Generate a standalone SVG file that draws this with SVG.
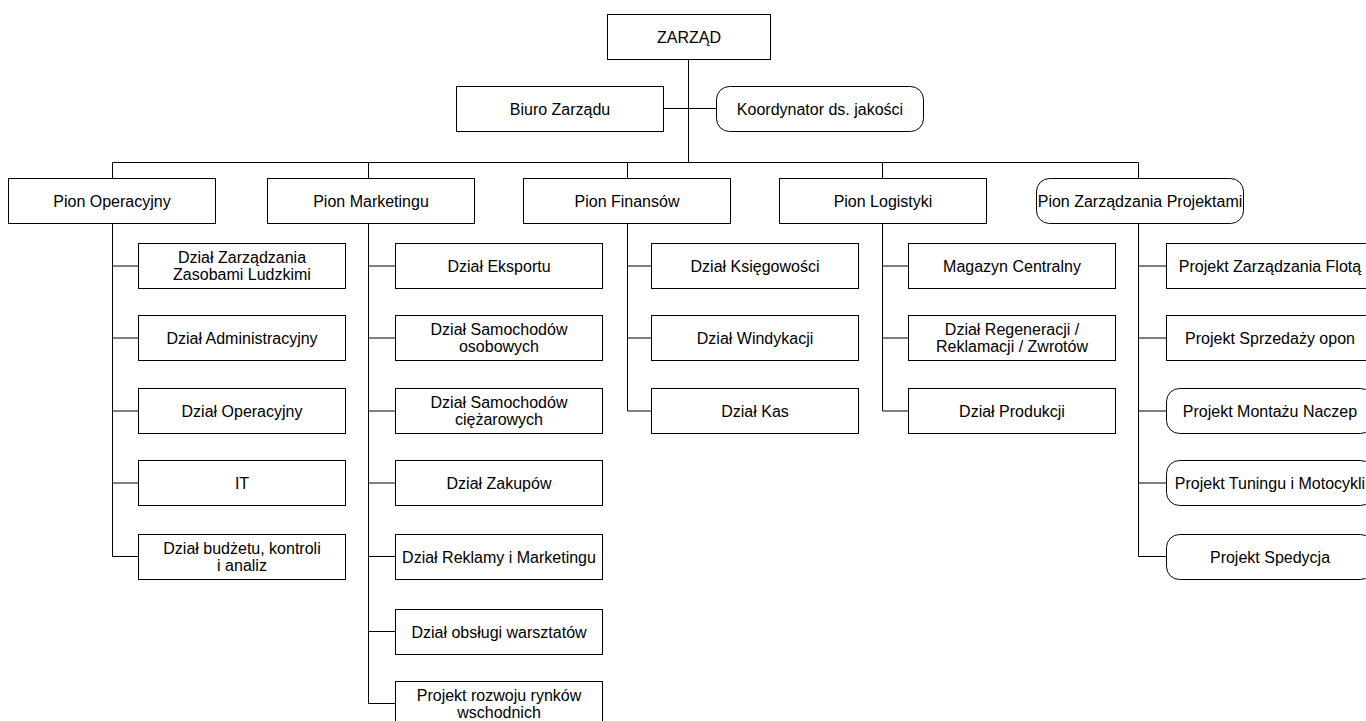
<svg xmlns="http://www.w3.org/2000/svg" width="1366" height="721" viewBox="0 0 1366 721">
<style>
.b{fill:#fff;stroke:#000;stroke-width:1}
.t{font-family:"Liberation Sans",Helvetica,Arial,sans-serif;font-size:16px;fill:#000;text-anchor:middle}
.c{fill:none;stroke:#000;stroke-width:1}
</style>
<rect width="1366" height="721" fill="#fff"/>
<g id="connectors">
<path class="c" d="M688.5 59V163M663 108.5H716M112.5 178V162.5H1138.5V178M368.5 162.5V178M627.5 162.5V178M882.5 162.5V178"/>
<path class="c" d="M112.5 223V556.5H138M112.5 266H138M112.5 338H138M112.5 411H138M112.5 483H138"/>
<path class="c" d="M368.5 223V703.5H395M368.5 266H395M368.5 338H395M368.5 411H395M368.5 483H395M368.5 556.5H395M368.5 631.5H395"/>
<path class="c" d="M627.5 223V411H651M627.5 266H651M627.5 338H651"/>
<path class="c" d="M882.5 223V411H908M882.5 266H908M882.5 338H908"/>
<path class="c" d="M1138.5 223V556.5H1166M1138.5 266H1166M1138.5 338H1166M1138.5 411H1166M1138.5 483H1166"/>
</g>
<g id="zarzad"><rect class="b" x="607.5" y="14.5" width="163" height="45"/><text class="t" x="689" y="43">ZARZĄD</text></g>
<g id="biuro"><rect class="b" x="456.5" y="86.5" width="207" height="45"/><text class="t" x="560" y="115">Biuro Zarządu</text></g>
<g id="koordynator"><rect class="b" x="716.5" y="86.5" width="207" height="45" rx="13"/><text class="t" x="820" y="115">Koordynator ds. jakości</text></g>

<g id="pion-operacyjny"><rect class="b" x="8.5" y="178.5" width="207" height="45"/><text class="t" x="112" y="207">Pion Operacyjny</text></g>
<g id="pion-marketingu"><rect class="b" x="267.5" y="178.5" width="207" height="45"/><text class="t" x="371" y="207">Pion Marketingu</text></g>
<g id="pion-finansow"><rect class="b" x="523.5" y="178.5" width="207" height="45"/><text class="t" x="627" y="207">Pion Finansów</text></g>
<g id="pion-logistyki"><rect class="b" x="779.5" y="178.5" width="207" height="45"/><text class="t" x="883" y="207">Pion Logistyki</text></g>
<g id="pion-projekty"><rect class="b" x="1036.5" y="178.5" width="207" height="45" rx="13"/><text class="t" x="1140" y="207">Pion Zarządzania Projektami</text></g>

<g id="dzial-zzl"><rect class="b" x="138.5" y="243.5" width="207" height="45"/><text class="t" x="242" y="263">Dział Zarządzania</text><text class="t" x="242" y="280">Zasobami Ludzkimi</text></g>
<g id="dzial-administracyjny"><rect class="b" x="138.5" y="315.5" width="207" height="45"/><text class="t" x="242" y="344">Dział Administracyjny</text></g>
<g id="dzial-operacyjny"><rect class="b" x="138.5" y="388.5" width="207" height="45"/><text class="t" x="242" y="417">Dział Operacyjny</text></g>
<g id="it"><rect class="b" x="138.5" y="460.5" width="207" height="45"/><text class="t" x="242" y="489">IT</text></g>
<g id="dzial-budzetu"><rect class="b" x="138.5" y="534.5" width="207" height="45"/><text class="t" x="242" y="554">Dział budżetu, kontroli</text><text class="t" x="242" y="571">i analiz</text></g>

<g id="dzial-eksportu"><rect class="b" x="395.5" y="243.5" width="207" height="45"/><text class="t" x="499" y="272">Dział Eksportu</text></g>
<g id="dzial-osobowych"><rect class="b" x="395.5" y="315.5" width="207" height="45"/><text class="t" x="499" y="335">Dział Samochodów</text><text class="t" x="499" y="352">osobowych</text></g>
<g id="dzial-ciezarowych"><rect class="b" x="395.5" y="388.5" width="207" height="45"/><text class="t" x="499" y="408">Dział Samochodów</text><text class="t" x="499" y="425">ciężarowych</text></g>
<g id="dzial-zakupow"><rect class="b" x="395.5" y="460.5" width="207" height="45"/><text class="t" x="499" y="489">Dział Zakupów</text></g>
<g id="dzial-reklamy"><rect class="b" x="395.5" y="534.5" width="207" height="45"/><text class="t" x="499" y="563">Dział Reklamy i Marketingu</text></g>
<g id="dzial-warsztatow"><rect class="b" x="395.5" y="609.5" width="207" height="45"/><text class="t" x="499" y="638">Dział obsługi warsztatów</text></g>
<g id="projekt-rynkow"><rect class="b" x="395.5" y="681.5" width="207" height="45"/><text class="t" x="499" y="701">Projekt rozwoju rynków</text><text class="t" x="499" y="718">wschodnich</text></g>

<g id="dzial-ksiegowosci"><rect class="b" x="651.5" y="243.5" width="207" height="45"/><text class="t" x="755" y="272">Dział Księgowości</text></g>
<g id="dzial-windykacji"><rect class="b" x="651.5" y="315.5" width="207" height="45"/><text class="t" x="755" y="344">Dział Windykacji</text></g>
<g id="dzial-kas"><rect class="b" x="651.5" y="388.5" width="207" height="45"/><text class="t" x="755" y="417">Dział Kas</text></g>

<g id="magazyn"><rect class="b" x="908.5" y="243.5" width="207" height="45"/><text class="t" x="1012" y="272">Magazyn Centralny</text></g>
<g id="dzial-regeneracji"><rect class="b" x="908.5" y="315.5" width="207" height="45"/><text class="t" x="1012" y="335">Dział Regeneracji /</text><text class="t" x="1012" y="352">Reklamacji / Zwrotów</text></g>
<g id="dzial-produkcji"><rect class="b" x="908.5" y="388.5" width="207" height="45"/><text class="t" x="1012" y="417">Dział Produkcji</text></g>

<g id="projekt-flota"><rect class="b" x="1166.5" y="243.5" width="207" height="45"/><text class="t" x="1270" y="272">Projekt Zarządzania Flotą</text></g>
<g id="projekt-opon"><rect class="b" x="1166.5" y="315.5" width="207" height="45"/><text class="t" x="1270" y="344">Projekt Sprzedaży opon</text></g>
<g id="projekt-naczep"><rect class="b" x="1166.5" y="388.5" width="207" height="45" rx="13"/><text class="t" x="1270" y="417">Projekt Montażu Naczep</text></g>
<g id="projekt-tuningu"><rect class="b" x="1166.5" y="460.5" width="207" height="45" rx="13"/><text class="t" x="1270" y="489">Projekt Tuningu i Motocykli</text></g>
<g id="projekt-spedycja"><rect class="b" x="1166.5" y="534.5" width="207" height="45" rx="13"/><text class="t" x="1270" y="563">Projekt Spedycja</text></g>
</svg>
